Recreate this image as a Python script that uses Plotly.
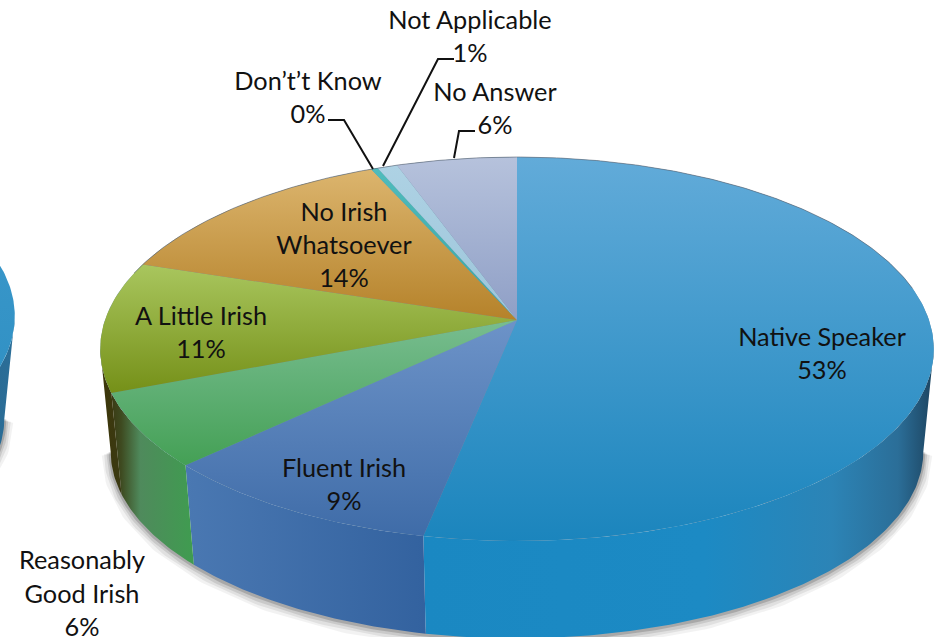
import numpy as np
import plotly.graph_objects as go

# Category order runs clockwise from 12 o'clock
categories = ["Native Speaker", "Fluent Irish", "Reasonably Good Irish", "A Little Irish",
              "No Irish Whatsoever", "Don't Know", "Not Applicable", "No Answer"]
slice_shares = [53.1, 9.7, 6.2, 11.0, 13.4, 0.3, 0.9, 5.4]   # measured from slice angles
percent_labels = ["53%", "9%", "6%", "11%", "14%", "0%", "1%", "6%"]
label_lines = [["Native Speaker"], ["Fluent Irish"], ["Reasonably", "Good Irish"], ["A Little Irish"],
               ["No Irish", "Whatsoever"], ["Don\u2019t\u2019t Know"], ["Not Applicable"], ["No Answer"]]
label_centers = [(822, 339.5), (344, 470.5), (82, 563), (201, 318.5), (344, 214.5), (308, 83.5), (470, 22.5), (495, 94.5)]
line_step = 33.2

# [top-of-slice colour, bottom-of-slice colour]
top_grad = [["#62abd9", "#1b85bd"], ["#6d93c8", "#3f6ca8"], ["#78bd90", "#44a055"], ["#a9c65e", "#759018"],
            ["#dcb56e", "#b5822a"], ["#4fbcbc", "#3aa5a5"], ["#aed2e4", "#9cc5da"], ["#b6c2dc", "#8f9fc6"]]
wall_grad = [[[0, "#1a88c2"], [.55, "#1c8ac4"], [.8, "#2c84b6"], [.93, "#2b6e98"], [1, "#1d4460"]],
             [[0, "#4a78b2"], [1, "#33629f"]],
             [[0, "#3a3a14"], [.12, "#3e4a20"], [.35, "#4f8a5c"], [1, "#3f9c50"]],
             [[0, "#3d3608"], [1, "#3a3a14"]],
             [[0, "#c59a4a"], [1, "#c59a4a"]], [[0, "#3aa5a5"], [1, "#3aa5a5"]],
             [[0, "#9cc5da"], [1, "#9cc5da"]], [[0, "#8f9fc6"], [1, "#8f9fc6"]]]
leaders = {"Don't Know": ([328, 344, 373], [120, 120, 169]),
           "Not Applicable": ([454, 438, 383], [59, 59, 166]),
           "No Answer": ([475, 459, 454], [131, 131, 158])}

# Projection of the tilted disc to the page
CX, CY, A, B, K = 517.0, 320.0, 412.0, 187.6, 0.151
WALL_SCALE, WALL_DROP = 0.975, 103.0
PHI_R = np.arccos(-K)             # rim angle of the right silhouette
PHI_L = 2 * np.pi - PHI_R         # rim angle of the left silhouette


def rim(phi, dx=0.0, dy=0.0, lower=False):
    u, v = np.sin(phi), np.cos(phi)
    d = 1 + K * v
    x, y = A * u / d, -B * v / d
    if lower:
        x, y, dy = x * WALL_SCALE, y * WALL_SCALE, dy + WALL_DROP
    return CX + x + dx, CY + y + dy


def arc(a0, a1):
    return np.linspace(a0, a1, max(3, int(abs(a1 - a0) * 90)))


def poly(x, y, colorscale, gtype, name):
    return go.Scatter(x=list(x), y=list(y), mode="lines", line=dict(width=0), fill="toself", name=name,
                      fillgradient=dict(type=gtype, colorscale=colorscale), hoverinfo="skip", showlegend=False)


edges = np.cumsum([0] + slice_shares) / sum(slice_shares) * 2 * np.pi
fig = go.Figure()

# Soft shadow below the wall, for this pie and for the neighbouring one
for dx, dy in [(0, 0), (-919, -33)]:
    p = arc(PHI_R, PHI_L)
    sx, sy = rim(p, dx, dy, lower=True)
    for w, a, off in [(18, .05, 3), (13, .07, 2.5), (8, .10, 2), (4, .16, 1)]:
        fig.add_trace(go.Scatter(x=sx, y=sy + off, mode="lines", line=dict(width=w, color=f"rgba(0,0,0,{a})"),
                                 hoverinfo="skip", showlegend=False))

# Neighbouring pie's edge at the left of the page
p = arc(PHI_R, np.pi)
tx, ty = rim(p, -919, -33)
bx, by = rim(p, -919, -33, lower=True)
fig.add_trace(poly(np.r_[tx, bx[::-1]], np.r_[ty, by[::-1]], [[0, "#1d4460"], [1, "#2b6e98"]], "horizontal", "prev wall"))
tx, ty = rim(arc(0, np.pi), -919, -33)
fig.add_trace(poly(tx, ty, [[0, "#2a8cc0"], [1, "#3f9bcd"]], "vertical", "prev top"))

# Side walls: only the part of each slice between the two silhouette angles shows
for i, cat in enumerate(categories):
    a0, a1 = max(edges[i], PHI_R), min(edges[i + 1], PHI_L)
    if a1 <= a0:
        continue
    p = arc(a0, a1)
    tx, ty = rim(p)
    bx, by = rim(p, lower=True)
    fig.add_trace(poly(np.r_[tx, bx[::-1]], np.r_[ty, by[::-1]], wall_grad[i], "horizontal", cat + " wall"))

# Underlay so the slice seams do not show white
tx, ty = rim(arc(0, 2 * np.pi))
fig.add_trace(go.Scatter(x=tx, y=ty, mode="lines", line=dict(width=0), fill="toself", fillcolor="#6f92a8",
                         hoverinfo="skip", showlegend=False))

# Top faces (the y axis is reversed, so the colour scale runs from page bottom to page top)
for i, cat in enumerate(categories):
    p = arc(edges[i], edges[i + 1])
    tx, ty = rim(p)
    fig.add_trace(poly(np.r_[CX, tx, CX], np.r_[CY, ty, CY],
                       [[0, top_grad[i][1]], [1, top_grad[i][0]]], "vertical", cat))

# Thin rim line at the back
p = arc(np.radians(-75), np.radians(80))
tx, ty = rim(p)
fig.add_trace(go.Scatter(x=tx, y=ty, mode="lines", line=dict(width=1, color="rgba(90,100,115,.6)"),
                         hoverinfo="skip", showlegend=False))

# Leader lines
for xs, ys in leaders.values():
    fig.add_trace(go.Scatter(x=xs, y=ys, mode="lines", line=dict(width=2, color="#111111"),
                             hoverinfo="skip", showlegend=False))

# Labels
tx, ty, tt = [], [], []
for lines, pct, (lx, ly) in zip(label_lines, percent_labels, label_centers):
    for j, s in enumerate(lines + [pct]):
        tx.append(lx); ty.append(ly + j * line_step); tt.append(s)
fig.add_trace(go.Scatter(x=tx, y=ty, text=tt, mode="text", textposition="middle center",
                         textfont=dict(family="Lato", size=25.3, color="#111111"),
                         hoverinfo="skip", showlegend=False))

fig.update_layout(width=938, height=637, margin=dict(l=0, r=0, t=0, b=0), paper_bgcolor="white",
                  plot_bgcolor="white", showlegend=False,
                  xaxis=dict(range=[0, 938], visible=False, fixedrange=True),
                  yaxis=dict(range=[637, 0], visible=False, fixedrange=True))
fig.write_html("out.html", config=dict(displayModeBar=False, responsive=False),
               post_script="document.documentElement.style.overflow='hidden';document.body.style.margin='0';")
